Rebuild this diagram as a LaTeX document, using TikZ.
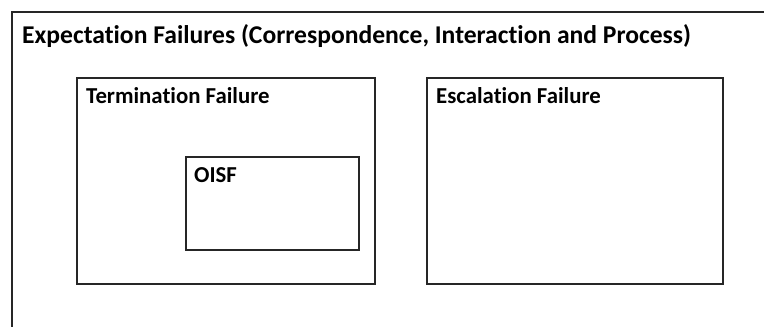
\documentclass[tikz,border=0pt]{standalone}
\usepackage{fontspec}
\setmainfont[Ligatures={NoCommon}]{Carlito}
\tikzset{
  box/.style={draw=black!85, line width=1.6pt},
  lbl/.style={anchor=base west, inner sep=0pt, font=\bfseries\fontsize{22.8}{26}\selectfont},
  ttl/.style={anchor=base west, inner sep=0pt, font=\bfseries\fontsize{25.6}{29}\selectfont}
}
\begin{document}
\begin{tikzpicture}[x=1pt,y=-1pt]
\useasboundingbox (0,0) rectangle (764,327);
\coordinate (oc1) at (12,340);
\coordinate (oc2) at (12,12);
\coordinate (oc3) at (780,12);
\draw[box] (oc1) -- (oc2) -- (oc3);
\node[ttl] (title) at (22,43) {Expectation Failures (Correspondence, Interaction and Process)};
\node[box, draw, inner sep=0pt, minimum width=298pt, minimum height=206pt, anchor=north west] (term) at (76,77) {};
\node[lbl] (termlbl) at (86,103) {Termination Failure};
\node[box, draw, inner sep=0pt, minimum width=173pt, minimum height=93pt, anchor=north west] (oisf) at (185,156) {};
\node[lbl] (oisflbl) at (194,182) {OISF};
\node[box, draw, inner sep=0pt, minimum width=296pt, minimum height=206pt, anchor=north west] (esc) at (426,77) {};
\node[lbl] (esclbl) at (436,103) {Escalation Failure};
\end{tikzpicture}
\end{document}
